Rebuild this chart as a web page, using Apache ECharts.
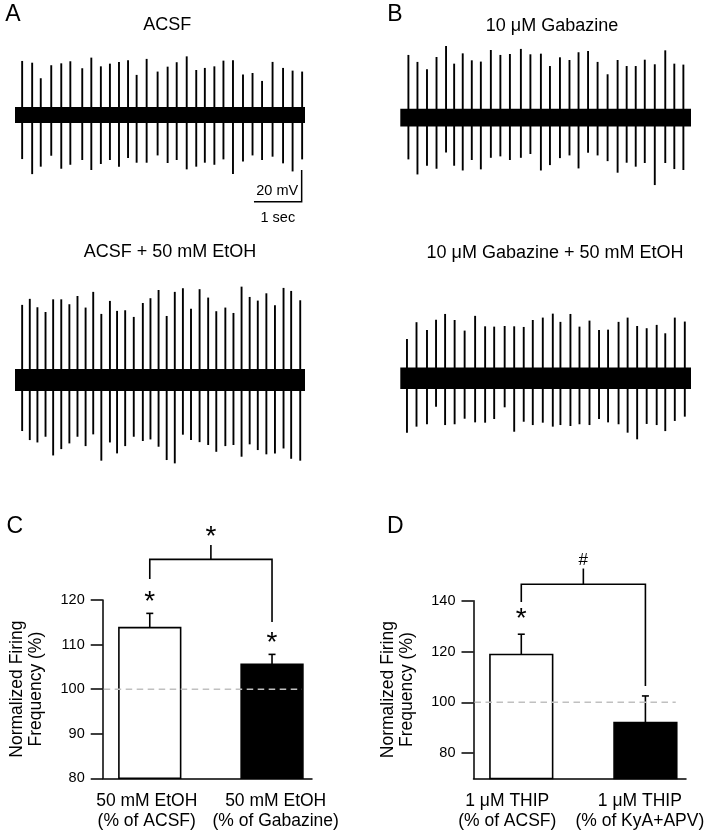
<!DOCTYPE html>
<html><head><meta charset="utf-8">
<script src="https://cdn.jsdelivr.net/npm/echarts@6/dist/echarts.min.js"></script>
<style>html,body{margin:0;padding:0;background:#fff}#c{width:712px;height:837px}</style>
</head><body><div id="c"></div>
<script>
// ================= DATA =================
const panelLetters = ['A', 'B', 'C', 'D'];
const traceTitles = ['ACSF', '10 μM Gabazine', 'ACSF + 50 mM EtOH', '10 μM Gabazine + 50 mM EtOH'];

// Trace A: ACSF — spike times (s), upstroke (mV), downstroke (mV)
const acsfT    = [0.15,0.36,0.54,0.76,0.97,1.16,1.41,1.60,1.80,1.99,2.18,2.37,2.55,2.76,2.99,3.20,3.39,3.60,3.80,3.98,4.18,4.37,4.57,4.78,4.98,5.18,5.40,5.62,5.82,6.02];
const acsfUp   = [34.1,33.0,23.2,31.4,32.6,33.9,29.5,36.2,30.7,32.4,33.5,34.5,25.3,35.4,27.4,30.5,33.3,37.0,28.4,29.7,30.7,34.3,34.5,25.5,26.5,21.5,33.5,29.7,28.0,27.4];
const acsfDown = [27.8,37.3,32.6,25.7,33.9,31.4,28.4,34.7,30.9,28.4,32.6,27.2,30.1,30.1,25.5,30.3,28.4,34.3,32.6,30.1,31.4,28.0,37.3,29.3,25.5,28.4,26.3,30.5,35.6,28.0];

// Trace B: 10 µM Gabazine
const gabT    = [0.17,0.36,0.56,0.76,0.96,1.13,1.31,1.50,1.69,1.90,2.10,2.30,2.53,2.73,2.95,3.14,3.35,3.55,3.74,3.94,4.14,4.35,4.56,4.75,4.94,5.13,5.34,5.56,5.75,5.94];
const gabUp   = [39.6,35.2,30.5,38.3,45.3,34.1,40.6,36.2,35.4,42.7,39.6,40.2,43.4,40.0,40.4,32.6,38.1,36.4,41.3,42.1,35.2,27.4,36.4,32.6,32.6,36.6,33.7,42.5,34.1,33.5];
const gabDown = [26.3,35.8,30.3,32.2,21.9,30.3,33.3,26.7,32.6,25.3,24.4,26.7,25.3,22.9,33.3,29.9,25.5,23.8,32.0,22.1,23.8,27.4,34.7,28.4,30.9,28.6,42.5,28.6,32.4,33.0];

// Trace A (lower): ACSF + 50 mM EtOH
const acsfEtohT    = [0.15,0.31,0.47,0.64,0.80,0.97,1.14,1.31,1.48,1.64,1.81,1.99,2.14,2.31,2.49,2.68,2.84,3.01,3.18,3.35,3.52,3.69,3.87,4.05,4.22,4.41,4.58,4.75,4.92,5.09,5.27,5.45,5.63,5.79,5.98];
const acsfEtohUp   = [47.4,51.2,45.9,42.9,50.9,50.9,47.8,53.0,45.7,55.6,41.7,49.9,43.6,44.0,39.8,48.6,51.6,56.8,40.4,55.6,57.9,45.0,57.3,52.0,43.4,45.7,42.3,58.9,52.4,50.1,54.7,47.2,58.1,56.2,50.3];
const acsfEtohDown = [32.2,37.9,39.4,35.8,47.6,43.6,40.0,35.8,41.7,34.3,50.9,39.4,46.3,41.7,35.8,38.5,37.5,42.1,50.5,52.6,34.5,37.9,39.2,41.0,45.3,41.7,41.0,48.4,40.6,44.2,46.9,46.3,43.2,49.7,50.9];

// Trace B (lower): 10 µM Gabazine + 50 mM EtOH
const gabEtohT    = [0.14,0.34,0.56,0.75,0.94,1.14,1.35,1.57,1.78,1.97,2.19,2.39,2.59,2.78,2.99,3.20,3.36,3.57,3.76,3.97,4.17,4.36,4.58,4.77,4.97,5.17,5.38,5.56,5.76,5.97];
const gabEtohUp   = [24.8,35.4,30.5,37.0,40.6,36.8,30.1,39.4,32.8,32.6,33.0,32.8,32.4,36.8,38.3,40.8,35.6,40.6,32.6,36.4,30.5,30.7,35.6,38.3,33.0,31.6,33.7,28.4,38.3,35.8];
const gabEtohDown = [34.3,30.5,29.0,17.9,29.5,29.0,25.5,27.8,28.0,25.7,18.3,33.7,27.4,29.5,28.0,30.5,29.5,30.1,29.0,29.5,25.7,27.8,29.0,34.3,38.5,28.8,29.5,33.3,26.9,24.2];

const traceDurations = [6.08, 6.10, 6.08, 6.10];   // s
const noiseAmp       = [5.0, 5.6, 7.0, 6.8];       // mV, baseline noise half-width
const scaleBarMv  = 20;
const scaleBarSec = 1;

// Panel C
const catsC  = ['50 mM EtOH\n(% of ACSF)', '50 mM EtOH\n(% of Gabazine)'];
const meanC  = [113.8, 105.6];
const semC   = [3.2, 2.2];
const starsC = ['*', '*'];
const compC  = '*';
const ticksC = [80, 90, 100, 110, 120];

// Panel D
const catsD  = ['1 μM THIP\n(% of ACSF)', '1 μM THIP\n(% of KyA+APV)'];
const meanD  = [118.8, 92.0];
const semD   = [8.0, 10.5];
const starsD = ['*', ''];
const compD  = '#';
const ticksD = [80, 100, 120, 140];

const refLevel = 100;
const barYName = 'Normalized Firing\nFrequency (%)';

// ================= CHART =================
const FONT = "'Liberation Sans', Arial, Helvetica, sans-serif";
const chart = echarts.init(document.getElementById('c'), null, {renderer: 'canvas', width: 712, height: 837});

const traces = [
  {t: acsfT, up: acsfUp, down: acsfDown},
  {t: gabT, up: gabUp, down: gabDown},
  {t: acsfEtohT, up: acsfEtohUp, down: acsfEtohDown},
  {t: gabEtohT, up: gabEtohUp, down: gabEtohDown}
];

const grids = [
  {left: 15,    top: 19.9,  width: 290,   height: 190.2},
  {left: 400.3, top: 22.6,  width: 290.7, height: 190.2},
  {left: 15,    top: 284.9, width: 290,   height: 190.2},
  {left: 400.3, top: 283.2, width: 290.7, height: 190.2},
  {left: 102.7, top: 600,   width: 209.3, height: 178.3},
  {left: 473.5, top: 600.7, width: 212.5, height: 177.8}
].map(g => Object.assign({containLabel: false, outerBoundsMode: 'none', show: false}, g));

const BAR_XMIN = 0.615, BAR_XMAX = 2.327, BAR_W = 0.505;

const xAxes = [], yAxes = [];
for (let i = 0; i < 4; i++) {
  xAxes.push({type: 'value', gridIndex: i, min: 0, max: traceDurations[i], show: false});
  yAxes.push({type: 'value', gridIndex: i, min: -60, max: 60, show: false});
}

function barXAxis(gi, cats, labelAt) {
  return {
    type: 'value', gridIndex: gi, min: BAR_XMIN, max: BAR_XMAX,
    splitLine: {show: false},
    axisLine: {show: true, onZero: false, lineStyle: {color: '#000', width: 1.5}},
    axisTick: {show: false},
    axisLabel: {
      customValues: labelAt,
      formatter: v => cats[v < 1.5 ? 0 : 1],
      color: '#000', fontFamily: FONT, fontSize: 17.5, lineHeight: 20, margin: 13
    }
  };
}
function barYAxis(gi, min, max, ticks) {
  return {
    type: 'value', gridIndex: gi, min: min, max: max,
    splitLine: {show: false},
    axisLine: {show: true, onZero: false, lineStyle: {color: '#000', width: 1.5}},
    axisTick: {show: true, inside: false, length: 12, customValues: ticks, lineStyle: {color: '#000', width: 1.5}},
    axisLabel: {customValues: ticks, color: '#000', fontFamily: FONT, fontSize: 14.5, margin: 18},
    name: barYName, nameLocation: 'middle', nameGap: 76, nameRotate: 90, nameMoveOverlap: false,
    nameTextStyle: {color: '#000', fontFamily: FONT, fontSize: 17.5, lineHeight: 19, align: 'center', verticalAlign: 'middle'}
  };
}
xAxes.push(barXAxis(4, catsC, [0.975, 2.03])); yAxes.push(barYAxis(4, 80, 120, ticksC));
xAxes.push(barXAxis(5, catsD, [0.887, 1.955])); yAxes.push(barYAxis(5, 70, 140, ticksD));

function textEl(txt, x, y, size, align, vAlign) {
  return {type: 'text', x: x, y: y, style: {
    text: txt, fill: '#000', fontFamily: FONT, fontSize: size,
    align: align || 'center', verticalAlign: vAlign || 'middle',
    textAlign: align || 'center', textVerticalAlign: vAlign || 'middle'
  }};
}

const series = [];
traces.forEach((tr, i) => {
  // baseline noise band
  series.push({
    type: 'custom', xAxisIndex: i, yAxisIndex: i, silent: true, z: 2,
    data: [[0, traceDurations[i], noiseAmp[i]]],
    renderItem: (params, api) => {
      const a = api.coord([api.value(0), api.value(2)]);
      const b = api.coord([api.value(1), -api.value(2)]);
      return {type: 'rect', shape: {x: a[0], y: a[1], width: b[0] - a[0], height: b[1] - a[1]}, style: {fill: '#000'}};
    }
  });
  // spikes
  series.push({
    type: 'custom', xAxisIndex: i, yAxisIndex: i, silent: true, z: 3,
    data: tr.t.map((t, k) => [t, tr.up[k], tr.down[k]]),
    renderItem: (params, api) => {
      const a = api.coord([api.value(0), api.value(1)]);
      const b = api.coord([api.value(0), -api.value(2)]);
      return {type: 'line', shape: {x1: a[0], y1: a[1], x2: b[0], y2: b[1]}, style: {stroke: '#000', lineWidth: 1.9}};
    }
  });
});

// scale bar (panel A)
series.push({
  type: 'custom', xAxisIndex: 0, yAxisIndex: 0, silent: true, z: 3,
  data: [[scaleBarSec, scaleBarMv]],
  renderItem: (params, api) => {
    const sec = api.value(0), mv = api.value(1);
    const cT = 6.01, cV = -54.7;
    const c = api.coord([cT, cV]);
    const top = api.coord([cT, cV + mv]);
    const left = api.coord([cT - sec, cV]);
    return {type: 'group', children: [
      {type: 'polyline', shape: {points: [top, c, left]}, style: {stroke: '#000', lineWidth: 1.5, fill: 'none'}},
      textEl(mv + ' mV', c[0] - 3.5, c[1] - 11, 14.5, 'right', 'middle'),
      textEl(sec + ' sec', (c[0] + left[0]) / 2, c[1] + 16.5, 14.5, 'center', 'middle')
    ]};
  }
});

function barSeries(ai, means, sems, yMin) {
  return {
    type: 'custom', xAxisIndex: ai, yAxisIndex: ai, silent: true, z: 2,
    data: means.map((m, i) => [i + 1, m, sems[i]]),
    renderItem: (params, api) => {
      const x = api.value(0), m = api.value(1), s = api.value(2);
      const base = api.coord([x, yMin]), top = api.coord([x, m]), et = api.coord([x, m + s]);
      const hw = api.size([BAR_W, 0])[0] / 2;
      const lw = 1.6;
      return {type: 'group', children: [
        {type: 'line', shape: {x1: top[0], y1: top[1], x2: et[0], y2: et[1]}, style: {stroke: '#000', lineWidth: lw}},
        {type: 'line', shape: {x1: et[0] - 3.5, y1: et[1], x2: et[0] + 3.5, y2: et[1]}, style: {stroke: '#000', lineWidth: lw}},
        {type: 'rect', shape: {x: top[0] - hw, y: top[1], width: 2 * hw, height: base[1] - top[1]},
         style: {fill: params.dataIndex === 0 ? '#fff' : '#000', stroke: '#000', lineWidth: lw}}
      ]};
    }
  };
}

function annotSeries(ai, means, sems, stars, comp, cfg) {
  return {
    type: 'custom', xAxisIndex: ai, yAxisIndex: ai, silent: true, z: 5,
    data: [[1, refLevel]],
    renderItem: (params, api) => {
      const et = means.map((m, i) => api.coord([i + 1, m + sems[i]]));
      const l = api.coord([BAR_XMIN, refLevel]);
      const r = api.coord([2 + BAR_W / 2, refLevel]);
      const ch = [];
      ch.push({type: 'line', shape: {x1: l[0] + 1, y1: l[1], x2: r[0] - 1, y2: r[1]}, style: {stroke: '#c0c0c0', lineWidth: 1.5, lineDash: [6.5, 4.5]}});
      stars.forEach((s, i) => { if (s) ch.push(textEl(s, et[i][0], et[i][1] - cfg.starOff, cfg.starSize)); });
      const yb = et[0][1] - cfg.bracketAbove;
      const xL = et[0][0], xR = et[1][0], xM = (xL + xR) / 2;
      ch.push({type: 'polyline', shape: {points: [[xL, et[0][1] - cfg.leg1], [xL, yb], [xR, yb], [xR, et[1][1] - cfg.leg2]]},
               style: {stroke: '#000', lineWidth: 1.6, fill: 'none'}});
      ch.push({type: 'line', shape: {x1: xM, y1: yb, x2: xM, y2: yb - cfg.tick}, style: {stroke: '#000', lineWidth: 1.6}});
      ch.push(textEl(comp, xM, yb - cfg.symOff, cfg.symSize));
      return {type: 'group', children: ch};
    }
  };
}

series.push(barSeries(4, meanC, semC, 80));
series.push(annotSeries(4, meanC, semC, starsC, compC,
  {starOff: 11, starSize: 28, bracketAbove: 54, leg1: 34.3, leg2: 32.3, tick: 14.3, symOff: 22, symSize: 28}));
series.push(barSeries(5, meanD, semD, 70));
series.push(annotSeries(5, meanD, semD, starsD, compD,
  {starOff: 14.5, starSize: 28, bracketAbove: 50, leg1: 32.3, leg2: 10, tick: 15.7, symOff: 24, symSize: 17}));

const titlePos = [[167.3, 25], [552, 26.5], [170, 252], [555, 253.3]];
const letterPos = [[13, 15], [395, 15], [14.7, 526.7], [395.3, 527]];
const graphics = [];
traceTitles.forEach((t, i) => graphics.push({
  type: 'text', x: titlePos[i][0], y: titlePos[i][1], silent: true,
  style: {text: t, fill: '#000', fontFamily: FONT, fontSize: 18, align: 'center', verticalAlign: 'middle', textAlign: 'center', textVerticalAlign: 'middle'}
}));
panelLetters.forEach((t, i) => graphics.push({
  type: 'text', x: letterPos[i][0], y: letterPos[i][1], silent: true,
  style: {text: t, fill: '#000', fontFamily: FONT, fontSize: 23, align: 'center', verticalAlign: 'middle', textAlign: 'center', textVerticalAlign: 'middle'}
}));

chart.setOption({
  backgroundColor: '#fff',
  animation: false,
  textStyle: {fontFamily: FONT},
  grid: grids,
  xAxis: xAxes,
  yAxis: yAxes,
  series: series,
  graphic: graphics
});
</script>
</body></html>
